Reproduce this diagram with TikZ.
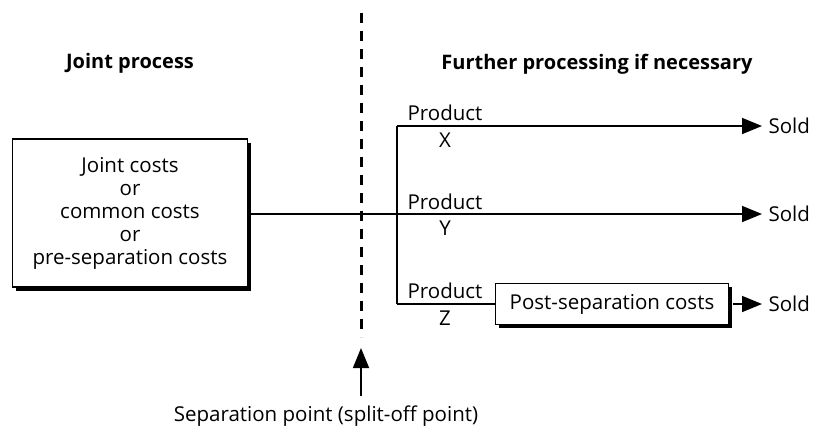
\documentclass[tikz,border=0pt]{standalone}
\usepackage{fontspec}
\setmainfont{Open Sans}
\usetikzlibrary{arrows.meta, positioning, shadows}

\begin{document}
\begin{tikzpicture}[
      x=1pt, y=-1pt,
      font=\fontsize{20.5}{23}\selectfont,
      costbox/.style={
          rectangle,
          draw,
          line width=1.7pt,
          fill=white,
          align=center,
          drop shadow={shadow xshift=3.5pt, shadow yshift=-3.5pt, fill=black, opacity=1}
        },
      heading/.style={
          font=\fontsize{20}{24}\selectfont\bfseries
        },
      flow/.style={
          line width=1.6pt
        },
      arrow/.style={
          flow,
          shorten >=3pt,
          -{Triangle[length=20pt, width=16pt]}
        },
      tag/.style={
          inner sep=1pt
        }
    ]
    \useasboundingbox (0,0) rectangle (818,432);

    % Headings
    \node[heading] (joint_head) at (130,63) {Joint process};
    \node[heading] (further_head) at (597,64) {Further processing if necessary};

    % Joint costs
    \node[costbox, minimum width=235pt, minimum height=148pt] (joint) at (130,213)
        {Joint costs\\or\\common costs\\or\\pre-separation costs};

    % Separation point
    \coordinate (sep_top) at (361,13);
    \coordinate (sep_bot) at (361,337);
    \draw[line width=3pt, dash pattern=on 10pt off 8pt] (sep_top) -- (sep_bot);
    \node (sep_label) at (326,416) {Separation point (split-off point)};
    \coordinate (sep_tail) at (361,396);
    \coordinate (sep_tip) at (361,345);
    \draw[arrow] (sep_tail) -- (sep_tip);

    % Split into products
    \coordinate (split) at (397,214);
    \coordinate (split_x) at (397,126);
    \coordinate (split_z) at (397,304);
    \draw[flow] (joint.east |- split) -- (split);
    \draw[flow] (split_x) -- (split_z);

    % Sold
    \node[anchor=west] (sold_x) at (765,126) {Sold};
    \node[anchor=west] (sold_y) at (765,214) {Sold};
    \node[anchor=west] (sold_z) at (765,304) {Sold};

    % Post-separation
    \node[costbox, minimum width=233pt, minimum height=41pt] (post) at (612,304) {Post-separation costs};

    % Arrows
    \draw[arrow] (split_x) -- (sold_x.west);
    \draw[arrow] (split) -- (sold_y.west);
    \draw[flow] (split_z) -- (post.west);
    \draw[arrow] (post.east) ++(3.5pt,0) -- (sold_z.west);

    % Product labels
    \node[tag] (prod_x) at (445,113) {Product};
    \node[tag] (name_x) at (445,140) {X};
    \node[tag] (prod_y) at (445,202) {Product};
    \node[tag] (name_y) at (445,228) {Y};
    \node[tag] (prod_z) at (445,291) {Product};
    \node[tag] (name_z) at (445,318) {Z};
  \end{tikzpicture}
\end{document}
